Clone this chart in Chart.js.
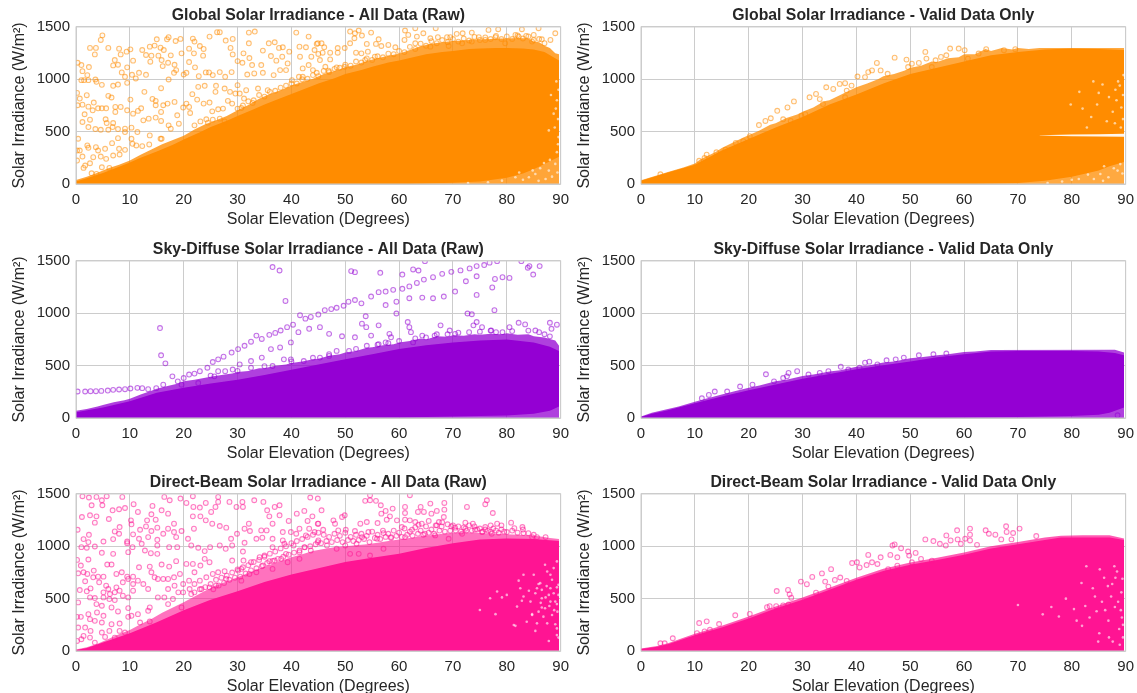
<!DOCTYPE html>
<html>
<head>
<meta charset="utf-8">
<title>Solar irradiance vs elevation</title>
<script src="https://cdn.jsdelivr.net/npm/chart.js@4/dist/chart.umd.min.js"></script>
<style>
  html, body { margin: 0; padding: 0; background: #fff; overflow: hidden; }
  canvas { position: absolute; display: block; }
</style>
</head>
<body>
<canvas id="c0"></canvas><canvas id="c1"></canvas>
<canvas id="c2"></canvas><canvas id="c3"></canvas>
<canvas id="c4"></canvas><canvas id="c5"></canvas>
<script>
const xTicks = [0, 10, 20, 30, 40, 50, 60, 70, 80, 90];
const yTicks = [0, 500, 1000, 1500];
const xLabel = "Solar Elevation (Degrees)";
const yLabel = "Solar Irradiance (W/m²)";

// --- Global, raw ---
const globalRawSolid = [[0,25],[2,55],[5,105],[8,165],[10,205],[12,250],[15,310],[18,375],[20,425],[23,495],[25,545],[28,605],[30,650],[33,715],[35,760],[37,800],[40,860],[43,920],[45,960],[48,1010],[50,1050],[53,1090],[55,1120],[58,1160],[60,1180],[63,1215],[65,1240],[68,1260],[70,1270],[73,1290],[75,1295],[78,1300],[80,1300],[83,1295],[85,1285],[87,1260],[89.7,1180]];
const globalRawFringe = [[0,38],[2,70],[4,108],[6,150],[8,185],[10,225],[12,280],[14,330],[16,380],[18,420],[20,460],[22,520],[24,570],[26,610],[28,650],[30,705],[32,755],[34,815],[36,860],[38,895],[40,940],[42,975],[44,1005],[46,1050],[48,1080],[50,1115],[52,1140],[54,1175],[56,1200],[58,1225],[60,1245],[62,1280],[64,1315],[66,1340],[68,1355],[70,1365],[72,1370],[74,1380],[76,1380],[78,1390],[80,1390],[82,1395],[84,1390],[85,1360],[86,1355],[87,1320],[88,1300],[89,1250],[89.7,1240]];
const globalRawFloor = [[0,0],[62,0],[66,6],[70,12],[75,25],[80,60],[83,100],[85,140],[87,190],[89.7,260]];
const globalRawSpecks = [[85.3,96],[87.8,128],[89,192],[87.2,48],[84.1,64],[89.3,800],[88.7,672],[87.8,512],[89.6,448],[89.3,304],[81.6,64],[79.1,32],[86.2,150],[88.4,70],[83,40],[85.9,30],[89.4,110],[88,230],[86.9,200],[84.8,130],[82.3,110],[76.5,16],[72.8,10],[89.5,620],[89.1,720],[89.6,900],[88.9,540],[89.5,380],[88.2,850],[89.2,980]];
const globalRawEdge = [[30,720],[31,750],[32,790],[33,800],[34,850],[35,835],[36,880],[37,890],[38,920],[39,940],[40,960],[41,960],[42,1000],[43,1005],[44,1040],[45,1030],[46,1080],[47,1070],[48,1100],[49,1110],[50,1140],[51,1130],[52,1170],[53,1160],[54,1200],[55,1185],[56,1220],[57,1210],[58,1245],[59,1240],[60,1270],[61,1260],[62,1310],[63,1290],[64,1340],[65,1320],[66,1365],[67,1345],[68,1375],[69,1355],[70,1385],[71,1360],[72,1390],[73,1370],[74,1405],[75,1375],[76,1400],[77,1385],[78,1415],[79,1385],[80,1410],[81,1385],[82,1420],[83,1390],[84,1410],[85,1375],[86,1385],[87,1345]];
const globalRawOutliers = [[4.9,1420],[4.6,1376],[2.6,1300],[3.7,1300],[3.5,1238],[6,1300],[8,1293],[8.3,1238],[7.2,1184],[6.9,1133],[7.8,1139],[0.3,1158],[1,1136],[2.4,1117],[1.2,1078],[2.1,1040],[1,992],[1.5,992],[2.3,992],[3.6,998],[3.8,976],[4.8,947],[6.9,938],[7.8,950],[9.5,966],[9.5,1114],[8.5,1066],[9.1,1024],
[10.1,1286],[9.4,1264],[12.3,1280],[10.6,1178],[11.7,1062],[10.4,1043],[11.1,1008],[13,1043],[12.7,880],[15.8,915],[13.7,1312],[14.6,1322],[15,1382],[15.7,1302],[16.3,1280],[14,1226],[15.3,1226],[13,1232],[13.8,1168],[15.9,1184],[16.1,1126],[17.1,1158],[18.3,1139],[17.2,1402],[16.9,1382],[18.5,1366],[19.4,1386],[19.6,1248],[17.6,1229],[17.2,998],[18.2,1062],[18.6,1088],[20.5,1062],[20,1046],[21,1165],[22.1,1114],[21.7,1389],[22,1360],[23,1318],[23.7,1290],[21,1293],[21.9,1248],[24.8,1408],[26.2,1450],[26.7,1450],[27.8,1370],[29.1,1386],[28.7,1300],[29.1,1238],[23.6,1226],
[22.8,1030],[24.1,1066],[24.7,1066],[25.4,1040],[26.7,1069],[27.7,1024],[28.9,1069],[30,1174],[31.1,1248],[30.9,1158],[32.2,1203],[32.7,1136],[34.4,1136],[31.8,1046],[33.1,1056],[34.7,1062],[32.1,1344],[32.1,1446],[33.2,1456],[35.8,1344],[36.9,1354],[37.7,1300],[38.4,1306],[34.7,1274],[36.2,1222],[37.2,1178],[38.3,1216],[39.6,1264],[41.5,1312],[42.7,1306],[44.3,1280],[40.9,1446],[43.2,1408],[44.9,1344],[41.6,1216],[43.7,1216],[43.2,1136],[42.1,1104],[39.3,1152],[39,1088],[37.9,1088],[36.7,1040],[41.4,1024],[42.1,1024],[44,1088],[40.1,992],
[0.2,870],[0.7,816],[2,848],[0.3,752],[1.2,758],[2.3,739],[3.3,778],[3.1,704],[4.1,723],[4.8,723],[5.6,723],[6,842],[6.6,826],[7.3,736],[8.3,736],[7.3,688],[9.5,704],[10.1,806],[1.6,666],[1.2,592],[2.6,614],[2.3,544],[5.5,618],[5.7,582],[6.9,582],[6.8,544],[4.6,518],[3.6,525],[6,518],[7.8,525],[9.1,528],[10.3,538],[9.1,496],[0.4,432],
[11.5,698],[10.6,672],[12.1,723],[14.2,813],[14.8,794],[14.8,752],[16.2,752],[17,768],[18.3,784],[19.9,730],[15.8,688],[13.5,624],[14.8,634],[12.5,608],[15.8,602],[17.2,560],[17.6,528],[18.8,656],[19.1,576],[13.7,464],[11.4,496],[15.7,432],[20.5,768],[21.6,858],[22.7,928],[23.9,938],[23.7,768],[22.5,806],[21,736],[24.8,778],[25.3,694],[26.4,714],[27.3,720],[26,938],[25.9,880],[27.6,912],[28.6,880],[29.6,864],[28.2,794],[29,768],[30.4,864],[31.6,896],[33.8,912],[35.6,896],[30,944],[31.2,816],[32.8,774],[30.7,726],[21.2,678],[23.1,598],[24.2,618],[22,560],[24.5,586],[25.4,614],[27.6,598],[26.7,624],
[0.2,320],[0.7,320],[2.1,368],[2.3,346],[3.7,352],[4.1,320],[5.4,336],[6.7,390],[7.8,438],[8,336],[9.1,326],[10.3,432],[10.5,384],[11.2,368],[12.3,362],[13.6,378],[15.9,432],[0.2,224],[1.2,262],[1.7,176],[3.2,256],[2.6,198],[4.6,262],[5.6,240],[1.4,154],[4.8,160],[6.9,272],[8.1,282],[6.2,154],[2.9,102],[3.8,96],
[50.9,1456],[51.8,1440],[52.5,1466],[51.7,1392],[53.1,1418],[54.8,1446],[56.2,1382],[54,1338],[55.7,1338],[50.9,1344],[56.7,1318],[58,1328],[59.3,1306],[52,1254],[53,1248],[54.2,1264],[55.5,1216],[53.7,1184],[44.7,1338],[45.6,1344],[46.1,1306],[47.2,1254],[48.6,1299],[48.6,1254],[49.9,1299],[45,1242],[45.8,1254],[45.3,1184],[47.2,1190],[46.3,1120],[48.4,1114],[49.9,1120],[44.7,1062],[46.9,1082],[61.1,1466],[61.7,1424],[63.3,1408],[64.5,1440],[65.8,1392],[67.2,1402],[68.9,1402],[69.5,1402],[61,1376],[63,1488],[66.8,1488],[70.7,1434],[71.8,1440],[73.5,1446],[74.8,1402],[76.6,1472],[78.4,1478],[77.9,1402],[81.6,1424],[82.8,1478],[83.6,1414],[85,1424],[85.9,1488],[89,1440],[88.1,1376],[63,1344],[65.8,1312],[69.2,1318],[71.7,1344],[73.5,1360],[76,1376],[79.7,1344],[82.2,1408],[84.7,1360],[86.5,1382]];

// --- Global, valid ---
const globalValidSolid = [[0,30],[5,110],[10,185],[15,320],[20,430],[25,540],[30,640],[35,760],[40,855],[45,960],[50,1050],[55,1110],[60,1170],[65,1230],[70,1260],[75,1285],[80,1295],[85,1290],[89.7,1280]];
const globalValidFringe = [[0,35],[5,115],[8,160],[10,195],[11,235],[12,260],[13,285],[14,310],[15,345],[17,395],[19,445],[20,465],[22,510],[24,565],[25,580],[27,630],[29,665],[30,690],[32,730],[34,790],[35,800],[37,850],[39,900],[40,925],[42,960],[44,1000],[45,1030],[47,1050],[49,1085],[50,1110],[52,1130],[54,1170],[55,1165],[57,1200],[59,1210],[60,1240],[62,1240],[64,1290],[65,1270],[67,1300],[69,1285],[70,1300],[72,1290],[74,1300],[89.7,1300]];
const globalValidFloor = [[0,0],[62,0],[66,5],[70,10],[75,30],[80,70],[85,130],[87,170],[89.7,210]];
const globalValidGapTop = [[74,466],[80,474],[85,476],[89.7,480]];
const globalValidGapBottom = [[74,464],[80,456],[85,454],[89.7,452]];
const globalValidSpecks = [[85.3,96],[88.5,128],[89,190],[86.8,64],[84.1,48],[88.9,940],[88.3,800],[87.6,690],[89.5,620],[89.1,540],[85,870],[86.5,600],[82,720],[81.3,48],[78.2,24],[87.8,150],[83,90],[85.8,30],[89.4,100],[86,170],[80,40],[75.5,10],[89.2,730],[89.5,850],[88,580],[84.7,760],[83.6,640],[86.9,830],[88.6,980],[85.7,950],[81.4,880],[82.8,540],[84,980],[79.8,760],[89.6,1040],[88.1,900]];
const globalValidOutliers = [[3.6,93],[10.8,222],[11.8,248],[12.2,280],[14,303],[15.7,328],[17.6,393],[20.2,457],[21.9,563],[23.1,602],[24.1,628],[25.3,699],[26.4,618],[27.2,731],[28.4,789],[29.8,650],[31.3,828],[32.5,860],[33.2,811],[34.4,924],[35.7,908],[36.9,956],[37.9,963],[39.1,940],[38.2,892],[40.2,1027],[41.6,1021],[42.2,1069],[42.9,1085],[43.8,1156],[44.5,1085],[45.8,1053],[47.1,1207],[49.3,1188],[49.6,1117],[50.3,1149],[51.6,1156],[52.8,1262],[53,1198],[54,1117],[57.4,1294],[59,1294],[60.1,1278],[56.7,1230],[60.7,1198],[54.7,1182],[55.7,1214],[64.1,1288],[67.4,1278],[69.5,1288],[62.7,1246],[37.9,828],[33.8,763],[30.5,667],[27.8,602],[19,409]];

// --- Sky-diffuse, raw ---
const diffuseRawSolid = [[0,55],[5,100],[10,160],[15,240],[20,290],[25,330],[30,365],[35,410],[40,460],[45,510],[50,560],[55,610],[60,660],[65,695],[70,720],[75,740],[80,750],[85,720],[88,680],[89.7,640]];
const diffuseRawFringe = [[0,70],[2,85],[4,110],[5,125],[7,150],[9,170],[10,185],[12,225],[14,260],[15,280],[17,305],[19,330],[20,350],[22,365],[24,385],[25,395],[27,410],[29,425],[30,440],[32,450],[34,475],[35,475],[37,500],[39,510],[40,525],[42,540],[44,560],[45,565],[47,595],[49,610],[50,625],[52,640],[54,670],[55,675],[57,695],[59,705],[60,720],[62,735],[64,760],[65,750],[67,780],[69,775],[70,790],[72,785],[74,800],[75,795],[77,805],[79,800],[80,810],[82,795],[84,800],[85,780],[87,770],[89,740],[89.7,690]];
const diffuseRawFloor = [[0,0],[60,5],[70,15],[80,25],[85,40],[88,70],[89.7,110]];
const diffuseRawEdge = [[58,715],[60,735],[63,760],[65,770],[67,800],[69,800],[71,815],[73,820],[75,825],[77,835],[78,820],[81,830],[84,835],[86,820],[87,800],[88,780],[52,660],[54,690],[56,700],[47,610],[44,575],[40,540],[35,495],[30,450],[25,405]];
const diffuseRawOutliers = [[0.3,253],[1.7,253],[2.7,256],[3.7,256],[4.7,259],[5.9,262],[6.9,269],[8,272],[9.1,275],[10.1,282],[11.4,288],[12.3,285],[13.4,275],
[14.9,285],[16.2,318],[17.9,398],[18.9,350],[20,382],[21,415],[22,424],[23,447],[24.4,480],[25.4,535],[26.4,560],[27.4,586],[28.9,625],[30.1,658],[31.3,690],[32.5,729],[33.5,787],[34.5,755],[35.9,794],[37,813],[38,836],[39.2,868],[40.3,891],[41.6,982],[42.6,949],[43.6,965],[45,988],[46.2,1030],[47.4,1040],[48.4,1053],[49.7,1072],[50.6,1111],[51.8,1127],[53,1095],[54.8,1160],[56.2,1202],[57.5,1208],[58.9,1224],[60.6,1234],[61.9,1257],[63.3,1290],[64.6,1322],[66.3,1345],[68,1377],[69.7,1396],[71.4,1410],[73.1,1429],[74.4,1451],[75.8,1461],[76.8,1484],[78.2,1498],
[25.7,398],[27.7,447],[30.4,512],[32.5,544],[34.5,577],[36.2,658],[37.9,674],[39.9,722],[41.3,820],[43.3,852],[45.3,868],[47,804],[49.4,781],[51.8,771],[54.8,787],[57.5,1079],[59.5,1111],[61.9,1144],[64.3,1150],[66.3,1144],[68.3,1160],[70.4,1208],[72.4,1306],[74.4,1354],
[36.5,1442],[37.8,1409],[38.9,1118],[15.6,859],[15.8,599],[16.6,522],[51.1,1403],[51.8,1393],[56.5,1387],[60.6,1370],[62.6,1419],[63.6,1409],[64.8,1498],[82.7,1498],[83.9,1435],[84.2,1451],[86.1,1451],[84.9,1370],[79.2,1345],[80.5,1338],[77.8,1328],[77.3,1247],[74.4,1176],[72.7,998],[73.5,991],[77.7,1030],[59.5,998],[53.8,972],[53.9,868],[53.1,901],[56.2,885],[61.6,917],[61.9,868],[62.2,820],[58.2,804],[58.5,771],
[66.6,787],[67.7,885],[69.4,836],[73.8,885],[74.4,917],[75.4,868],[80.5,868],[82.2,910],[83.4,894],[85.3,836],[88,910],[89.3,891],[88.3,852],[79.2,820],[77.1,836],[70.4,804],[64.3,787],[62.6,722],[57.5,722],[56.2,706],[50.7,641],[48.4,641],[47,593],[45.3,577],[42.3,544],[39.9,560],[38.6,560],[22.7,334],[19.6,318],[26.4,447],[29.1,463],[32.5,480],[36.5,496]];

// --- Sky-diffuse, valid ---
const diffuseValidSolid = [[0,10],[2,40],[5,75],[10,140],[15,205],[20,265],[25,320],[30,375],[35,420],[40,465],[45,505],[50,540],[55,580],[60,610],[65,635],[70,640],[80,640],[85,635],[88,620],[89.7,600]];
const diffuseValidFringe = [[0,15],[2,50],[5,85],[7,110],[10,155],[12,185],[15,225],[17,250],[20,290],[22,310],[25,350],[27,365],[30,400],[32,415],[35,445],[37,455],[40,490],[42,500],[45,530],[47,540],[50,570],[52,580],[55,600],[57,610],[60,630],[62,635],[65,650],[88,652],[89.7,625]];
const diffuseValidFloor = [[0,0],[55,0],[70,10],[80,20],[85,30],[87,50],[89.7,100]];
const diffuseValidOutliers = [[23.2,418],[27.4,431],[29,447],[27.1,398],[26.4,382],[13.7,253],[11.3,188],[20.7,318],[18.4,301],[37.1,489],[41.6,528],[42.4,538],[45.6,551],[47.3,560],[48.8,577],[51.6,599],[54.3,609],[56.7,616],[31.1,415],[33.2,431],[34.8,447],[38.5,463],[40.6,480],[43.9,512],[88.5,26],[24.7,350],[12.6,220],[16,253]];

// --- Direct-beam, raw ---
const directRawSolid = [[0,10],[2,28],[5,80],[10,170],[15,275],[20,390],[25,490],[30,570],[35,660],[40,730],[45,790],[50,850],[55,890],[60,930],[65,985],[70,1030],[75,1065],[80,1075],[85,1070],[89.7,1050]];
const directRawFringe = [[0,15],[2,35],[4,70],[6,115],[8,160],[10,200],[12,255],[14,305],[16,365],[18,415],[20,465],[22,520],[24,575],[26,625],[28,665],[30,705],[32,745],[34,785],[36,825],[38,860],[40,895],[42,925],[44,955],[46,975],[48,990],[50,1000],[52,1010],[54,1020],[56,1035],[58,1050],[60,1065],[62,1080],[64,1095],[66,1105],[68,1120],[70,1130],[72,1135],[74,1130],[76,1125],[78,1120],[80,1115],[82,1110],[84,1105],[86,1095],[88,1080],[89.7,1070]];
const directRawFloor = [[0,0],[89.7,0]];
const directRawSpecks = [[88.1,728],[88.4,680],[87.1,824],[89.3,856],[85.6,600],[86.5,504],[88.1,600],[89,472],[87.1,408],[88.4,344],[87.5,264],[89.3,216],[85.9,376],[84.4,472],[82.5,600],[81.3,248],[80,536],[78.2,568],[75,392],[76.9,504],[83.1,728],[85,728],[86.5,584],[89.6,632],[89.6,536],[89.4,376],[85.6,264],[84.7,344],[88.1,472],[87.8,536],[88.7,552],[88.7,792],[87.5,760],[86.2,648],[85.3,552],[83.1,520],[81.9,424],[86.8,328],[83.7,280],[89.3,152],[87.2,512],[89.3,608],[86.5,416],[89,256],[81.6,240],[84.7,352],[89.6,128],[87.8,96],[84.1,576],[85.9,640],[79.1,512],[82.8,480],[77.9,352],[89.3,448],[85.3,192],[82.2,672],[87.9,430],[88.8,390],[87.4,620],[86.3,460]];
const directRawEdge = [[22,560],[23,590],[24,610],[25,640],[25.5,590],[26,680],[26.5,625],[27,700],[27.5,650],[28,720],[28.5,680],[29,750],[29.5,700],[30,780],[30.5,710],[31,800],[31.5,740],[32,820],[32.5,770],[33,850],[33.5,790],[34,870],[34.5,810],[35,900],[35.5,840],[36,930],[36.5,860],[37,950],[37.5,880],[38,980],[38.5,900],[39,1000],[39.5,920],[40,1030],[40.5,940],[41,1050],[41.5,960],[42,1070],[42.5,990],[43,1090],[43.5,1000],[44,1110],[44.5,1020],[45,1130],[45.5,1030],[46,1110],[46.5,1050],[47,1090],[47.5,1040],[48,1120],[48.5,1060],[49,1100],[49.5,1040],[50,1130],[50.5,1060],[51,1090],[51.5,1050],[52,1110],[52.5,1060],[53,1120],[53.5,1070],[54,1100],[54.5,1040],[55,1140],[55.5,1080],[56,1110],[56.5,1070],[57,1150],[57.5,1090],[58,1120],[58.5,1080],[59,1150],[59.5,1100],[60,1130],[60.5,1090],[61,1170],[61.5,1110],[62,1140],[62.5,1100],[63,1180],[63.5,1120],[64,1150],[64.5,1110],[65,1190],[65.5,1130],[66,1160],[66.5,1120],[67,1200],[67.5,1150],[68,1230],[68.5,1140],[69,1210],[69.5,1150],[70,1200],[70.5,1150],[71,1190],[71.5,1140],[72,1180],[72.5,1150],[73,1200],[73.5,1150],[74,1190],[74.5,1160],[75,1170],[75.5,1140],[76,1160],[76.5,1150],[77,1140],[77.5,1170],[78,1150],[78.5,1130],[79,1160],[79.5,1140],[81,1150],[82,1130],[83,1160],[84,1125],[85,1110]];
const directRawOutliers = [[1.2,1478],[2.4,1466],[3.8,1472],[5.7,1478],[8.6,1472],[4.8,1440],[4.9,1392],[2.9,1392],[6.8,1344],[8,1354],[9.1,1366],[1.1,1280],[2.6,1296],[3.8,1286],[3.5,1226],[6.1,1261],[0.3,1158],[8.1,1184],[7.2,1142],[8,1120],[2.4,1110],[1.4,1069],[2.3,1040],[5.1,1046],[6.9,1069],[9.5,1046],[1,992],[2,986],[3.5,998],[4.8,938],[6.9,928],[9.7,944],
[10.7,1402],[14.2,1386],[16.4,1472],[17.4,1440],[19.4,1456],[15.9,1344],[17.1,1312],[11.5,1328],[14,1306],[10.2,1248],[13.2,1248],[14.8,1254],[10.3,1210],[13,1190],[11.9,1158],[14,1146],[15.1,1178],[18.2,1216],[17.1,1168],[16.2,1120],[10.6,1114],[11.7,1072],[13.4,1088],[15.1,1062],[18.2,1136],[19.6,1146],[18.6,1088],[20.8,1072],[9.5,1030],[12.2,1024],[15.1,1008],[17.3,992],[18.8,992],[10.5,992],[12.8,960],[15.1,928],[13.9,934],[15.9,826],[17.3,806],[18.6,858],
[20.5,1414],[21.7,1478],[21.8,1376],[24.1,1414],[23,1370],[26.4,1472],[26.4,1424],[25.9,1376],[25.1,1328],[23.1,1286],[21.7,1286],[24.1,1248],[21.9,1168],[25.3,1216],[26.7,1194],[27.9,1178],[28.5,1424],[29.8,1376],[30.9,1424],[31,1376],[33.1,1440],[34.8,1424],[35.5,1344],[36.9,1376],[37.8,1392],[35.9,1286],[37.8,1296],[32.1,1216],[31.3,1168],[36.5,1216],[39.5,1242],[29.9,1120],[32.3,1146],[34.4,1152],[35.4,1152],[38.4,1136],[39.9,1136],[33.5,1072],[34.6,1082],[31.3,1034],[36.5,1072],[38.4,1056],[21.4,1008],[22.7,986],[23.9,954],[24.9,992],[26.7,1008],[27.8,976],[28.8,1072],[29,1008],[31,950],[36.5,992],[38.7,1024],
[41,1312],[42.4,1338],[43.9,1286],[43,1242],[41.5,1168],[43.3,1168],[44.9,1216],[43.5,1466],[40.9,1120],[42.7,1104],[44.3,1136],
[0.2,870],[0.9,816],[2.3,874],[5.8,826],[6.6,826],[0.4,742],[1.4,752],[2.1,736],[3.3,768],[3.2,704],[4.1,710],[5.1,710],[7.5,736],[8.5,752],[9.5,710],[1.7,666],[4.3,656],[5.6,624],[6,592],[7.5,608],[8.7,656],[9.7,688],[10.6,710],[0.7,582],[2,570],[2.7,598],[5.1,560],[6.3,544],[7.2,560],[8.1,576],[2.6,512],[3.5,506],[5.1,512],[6.2,496],[7.2,486],[8.7,528],[9.7,512],[10.6,576],
[11.7,800],[13.7,806],[14,752],[14.6,704],[16.2,688],[11.5,672],[12.5,640],[10.6,640],[13.4,592],[15.2,688],[17.1,688],[18.2,704],[19.3,736],[20.5,832],[21.7,832],[23.1,816],[23.9,880],[24.8,848],[19.9,640],[18.3,624],[17.1,592],[19,560],[19.9,560],[21,672],[22,752],[23,672],[24.2,704],[25.4,736],[26.4,752],[27.6,762],[29,864],[30.1,768],[31.1,864],[32.5,848],[34.1,896],[35,912],[35.9,858],[36.9,864],[38.1,880],[39,928],[40.4,1008],[41.5,944],[42.4,992],[43.6,960],[44.9,1040],[39.3,848],[41.5,880],[36.5,784],[33.5,752],[30.7,784],[27.9,688],[30.7,672],[32.2,736],[34.7,816],[23.3,592],[24.8,608],[26,624],[22,640],[21.1,592],[21.4,544],
[0.4,464],[3.8,448],[4.8,432],[6.6,416],[7.8,378],[9.7,410],[10.3,336],[11.5,352],[13.4,384],[13.7,416],[15.2,512],[16.4,512],[17.1,448],[18,496],[19.6,416],[0.2,326],[0.9,326],[2.3,352],[2.6,304],[3.9,368],[5.1,336],[3.5,288],[4.8,272],[6.6,256],[8.1,262],[1.7,224],[2.7,192],[0.4,224],[4.8,176],[1.4,144],[2.6,128],[6.2,192],[8.1,192],[5.4,134],[7.2,128],[9.1,176],[9.7,326],[11.9,272],[13.7,282],[0.2,96],[1,112],[3.5,80],
[44.9,1456],[45.6,1344],[49.9,1296],[49.4,1280],[47.8,1248],[48.1,1216],[45,1216],[52.8,1216],[54,1232],[56,1222],[54.6,1488],[53.7,1434],[54.6,1440],[55.7,1434],[56.6,1392],[58.8,1360],[57.5,1338],[56.7,1312],[58.3,1286],[57.7,1254],[59.6,1248],[61.1,1376],[62,1488],[64,1376],[65.8,1408],[61.1,1318],[63.5,1328],[64.6,1328],[66,1312],[67,1338],[68.4,1414],[68.4,1350],[68.3,1280],[61.1,1254],[62,1248],[63,1232],[64.2,1216],[65.5,1242],[67.4,1232],[66.8,1200],[67.9,1190],[60.5,1184],[62.4,1158],[63.6,1206],[69.7,1190],[70.4,1178],[72.6,1376],[76.3,1440],[76,1402],[77.4,1318],[72.3,1226],[73.7,1216],[76,1184],[77,1200],[78.2,1216],[79,1200],[80.8,1226],[81.4,1174],[82.9,1184],[83.1,1126],[72.3,1168],[74.1,1158],[75.4,1136],[80,1136],[84.7,1088],[85.6,1088],[87.2,1088],[45.9,1158],[48.7,1152],[50.1,1158],[51.8,1146],[54.3,1136],[57.1,1126],[58.5,1088],[45,1056],[46.6,1008],[48.4,976],[50,1008],[52.1,1024],[54.6,912],[50.9,928],[52.5,928],[57.1,976],[53.1,1088],[55.9,1072],[61.1,1088],[64.8,1120],[66.7,1104],[69.2,1072],[71.7,1120],[77.2,1120]];

// --- Direct-beam, valid ---
const directValidSolid = [[0,20],[3,40],[5,65],[10,150],[15,225],[20,310],[25,405],[30,490],[35,585],[40,680],[45,765],[50,825],[55,870],[60,920],[65,980],[70,1020],[75,1060],[78,1085],[82,1085],[87,1085],[89.7,1060]];
const directValidFringe = [[0,25],[3,48],[5,75],[10,165],[15,240],[20,330],[25,425],[30,510],[35,605],[40,700],[45,785],[50,845],[55,890],[60,940],[65,1000],[70,1040],[75,1085],[78,1100],[82,1105],[87,1105],[89.7,1075]];
const directValidFloor = [[0,0],[89.7,0]];
const directValidSpecks = [[88.4,760],[87.5,640],[89.2,560],[85.6,470],[86.8,290],[88.8,210],[81.9,240],[84.6,380],[89.5,130],[87.6,90],[83.9,600],[86,700],[78.9,500],[82.5,430],[88,420],[77.6,330],[89.3,320],[85.1,170],[81.8,650],[70,440],[88.1,700],[87.9,810],[89.4,690],[86.7,620],[85.2,780],[84.3,520],[86.2,390],[87.3,520],[88.6,470],[89.1,390],[83.3,320],[80.4,400],[82.7,810],[80.9,290],[74.6,350],[76.2,420],[86.9,130],[88.9,60],[89.5,250],[84.9,90]];
const directValidOutliers = [[25.2,573],[27.3,583],[27.6,541],[27.9,509],[29.7,663],[30.8,638],[31.8,708],[33.6,741],[35.3,782],[34.2,663],[36,679],[37,702],[39.2,840],[40.1,847],[40.6,798],[38.2,670],[42.2,918],[41.9,821],[42.9,847],[43.9,831],[44.5,895],[46.3,918],[46.7,1008],[47.1,1018],[48.3,982],[47.6,895],[49.6,950],[49.8,911],[51,937],[52.8,1066],[54.3,1050],[55.5,1024],[56.7,1104],[57.5,1056],[56.6,1008],[58.7,1153],[58.8,1066],[59.4,1024],[60.2,1072],[61.1,1169],[61.1,1111],[61.1,1056],[62.4,1014],[64,1153],[64.6,1120],[65.8,1111],[66.9,1066],[67.8,1191],[67.9,1137],[68.8,1066],[69.1,1127],[70.3,1169],[73.4,1098],[3.6,74],[4.4,74],[5.9,122],[10.8,267],[12.2,283],[14.5,258],[17.5,341],[20.2,354],[10.4,171],[11.8,187],[12.8,203],[23.4,419],[23.9,428],[25.1,428],[26.4,435],[27.4,444],[32.5,557],[34.8,615],[45.9,782],[47.6,815],[50.3,847],[52,879],[54,863]];

const ORANGE = "255,140,0";
const VIOLET = "148,0,211";
const PINK = "255,20,147";
const GRID = "#cccccc";
const INK = "#262626";
const FONT = "'Liberation Sans', Arial, sans-serif";

const xy = (pairs) => pairs.map((p) => ({ x: p[0], y: p[1] }));

// invisible line that only carries a fill
function band(pairs, fill, color) {
  return {
    data: xy(pairs),
    showLine: true,
    borderWidth: 0,
    borderColor: "rgba(0,0,0,0)",
    pointRadius: 0,
    tension: 0,
    fill: fill,
    backgroundColor: color || "rgba(0,0,0,0)"
  };
}

function rings(pairs, rgb) {
  return {
    data: xy(pairs),
    showLine: false,
    fill: false,
    pointRadius: 2.4,
    pointBorderWidth: 1.1,
    pointBorderColor: `rgba(${rgb},0.55)`,
    pointBackgroundColor: `rgba(${rgb},0.05)`
  };
}

function specks(pairs) {
  return {
    data: xy(pairs),
    showLine: false,
    fill: false,
    pointRadius: 1.3,
    pointBorderWidth: 0,
    pointBackgroundColor: "rgba(255,255,255,0.6)"
  };
}

const spineOnTop = {
  id: "spineOnTop",
  afterDatasetsDraw(chart) {
    const a = chart.chartArea;
    const ctx = chart.ctx;
    ctx.save();
    ctx.strokeStyle = GRID;
    ctx.lineWidth = 1;
    ctx.strokeRect(a.left, a.top, a.width, a.height);
    ctx.restore();
  }
};

function drawPanel(index, left, top, title, rgb, fringeAlpha, p) {
  const canvas = document.getElementById("c" + index);
  canvas.width = 576;
  canvas.height = 226;
  canvas.style.left = left + "px";
  canvas.style.top = top + "px";

  // index 0 ends up on top, chart.js paints in reverse
  const datasets = [rings(p.outliers, rgb)];
  if (p.edge) datasets.push(rings(p.edge, rgb));
  if (p.specks) datasets.push(specks(p.specks));
  if (p.gapTop) {
    datasets.push(band(p.gapTop, "+1", "rgba(255,255,255,0.92)"), band(p.gapBottom, false));
  }
  datasets.push(band(p.solid, "+1", `rgb(${rgb})`), band(p.floor, false));
  datasets.push(band(p.fringe, { value: 0 }, `rgba(${rgb},${fringeAlpha})`));

  new Chart(canvas, {
    type: "scatter",
    data: { datasets: datasets },
    plugins: [spineOnTop],
    options: {
      responsive: false,
      animation: false,
      layout: { padding: { left: 0, right: 14, top: 0, bottom: 0 } },
      plugins: {
        legend: { display: false },
        tooltip: { enabled: false },
        title: {
          display: true,
          text: title,
          fullSize: false,
          color: INK,
          font: { family: FONT, size: 15.8, weight: "bold" },
          padding: { top: 3, bottom: 2 }
        }
      },
      scales: {
        x: {
          type: "linear",
          min: 0,
          max: 90,
          afterBuildTicks: (s) => { s.ticks = xTicks.map((v) => ({ value: v })); },
          afterFit: (s) => { s.height = 45; },
          grid: { color: GRID, lineWidth: 1, drawTicks: false },
          border: { display: false },
          ticks: { color: INK, font: { family: FONT, size: 15 }, padding: 7, maxRotation: 0, autoSkip: false, callback: (v) => String(v) },
          title: { display: true, text: xLabel, color: INK, font: { family: FONT, size: 16 }, padding: { top: 1, bottom: 0 } }
        },
        y: {
          type: "linear",
          min: 0,
          max: 1500,
          afterBuildTicks: (s) => { s.ticks = yTicks.map((v) => ({ value: v })); },
          afterFit: (s) => { s.width = 76; },
          grid: { color: GRID, lineWidth: 1, drawTicks: false },
          border: { display: false },
          ticks: { color: INK, font: { family: FONT, size: 15 }, padding: 6, callback: (v) => String(v) },
          title: { display: true, text: yLabel, color: INK, font: { family: FONT, size: 16 }, padding: { top: 10, bottom: 2 } }
        }
      }
    }
  });
}

drawPanel(0, 0, 3, "Global Solar Irradiance - All Data (Raw)", ORANGE, 0.78,
  { solid: globalRawSolid, fringe: globalRawFringe, floor: globalRawFloor, specks: globalRawSpecks, edge: globalRawEdge, outliers: globalRawOutliers });
drawPanel(1, 565, 3, "Global Solar Irradiance - Valid Data Only", ORANGE, 0.75,
  { solid: globalValidSolid, fringe: globalValidFringe, floor: globalValidFloor, gapTop: globalValidGapTop, gapBottom: globalValidGapBottom, specks: globalValidSpecks, outliers: globalValidOutliers });
drawPanel(2, 0, 237, "Sky-Diffuse Solar Irradiance - All Data (Raw)", VIOLET, 0.75,
  { solid: diffuseRawSolid, fringe: diffuseRawFringe, floor: diffuseRawFloor, edge: diffuseRawEdge, outliers: diffuseRawOutliers });
drawPanel(3, 565, 237, "Sky-Diffuse Solar Irradiance - Valid Data Only", VIOLET, 0.75,
  { solid: diffuseValidSolid, fringe: diffuseValidFringe, floor: diffuseValidFloor, outliers: diffuseValidOutliers });
drawPanel(4, 0, 470, "Direct-Beam Solar Irradiance - All Data (Raw)", PINK, 0.6,
  { solid: directRawSolid, fringe: directRawFringe, floor: directRawFloor, specks: directRawSpecks, edge: directRawEdge, outliers: directRawOutliers });
drawPanel(5, 565, 470, "Direct-Beam Solar Irradiance - Valid Data Only", PINK, 0.7,
  { solid: directValidSolid, fringe: directValidFringe, floor: directValidFloor, specks: directValidSpecks, outliers: directValidOutliers });
</script>
</body>
</html>
